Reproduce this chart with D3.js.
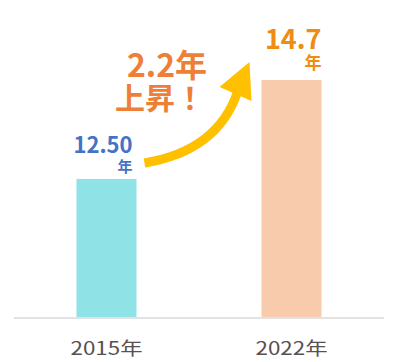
<!DOCTYPE html>
<html>
<head>
<meta charset="utf-8">
<script src="https://cdnjs.cloudflare.com/ajax/libs/d3/7.8.5/d3.min.js"></script>
<style>
  body { margin: 0; background: #fff; }
  svg { display: block; }
</style>
</head>
<body>
<svg id="chart"></svg>
<script>
// data
var years = ["2015年", "2022年"];
var values = [12.50, 14.7];
var valueLabels = ["12.50", "14.7"];
var riseLabel = ["2.2年", "上昇！"];

var width = 398, height = 362;
var baseY = 317;

var svg = d3.select("#chart")
    .attr("width", width)
    .attr("height", height);

// x uses point scale so bar centres land at ~107 and ~292
var x = d3.scalePoint()
    .domain(years)
    .range([14, 384])
    .padding(0.5);

// y does not start at zero in the original
var y = d3.scaleLinear()
    .domain([9.43, 14.7])
    .range([baseY, 80]);

var barW = 60;
var barColors = ["#8fe2e6", "#f8cbad"];
var labelColors = ["#4472c4", "#ee8c14"];

svg.selectAll("rect.bar")
  .data(values)
  .enter().append("rect")
    .attr("class", "bar")
    .attr("x", function(d, i) { return x(years[i]) - barW / 2; })
    .attr("y", function(d) { return y(d); })
    .attr("width", barW)
    .attr("height", function(d) { return baseY - y(d); })
    .attr("fill", function(d, i) { return barColors[i]; });

// baseline
svg.append("line")
    .attr("x1", 14).attr("x2", 384)
    .attr("y1", baseY + 1).attr("y2", baseY + 1)
    .attr("stroke", "#e2e2e2")
    .attr("stroke-width", 2);

// category labels (the original font is wide, so stretch to its width)
svg.selectAll("text.cat")
  .data(years)
  .enter().append("text")
    .attr("class", "cat")
    .attr("x", function(d) { return x(d) - 36; })
    .attr("y", 355)
    .attr("textLength", 72)
    .attr("lengthAdjust", "spacingAndGlyphs")
    .attr("fill", "#595050")
    .style("font-family", "'Noto Sans CJK JP', sans-serif")
    .style("font-size", "18px")
    .text(function(d) { return d; });

// value labels: number with 年 on a second line, right aligned
var numSize = [22, 27], unitSize = [15, 17];
var rightPad = [4, 0], numGap = [26, 31], unitGap = [7, 11];
values.forEach(function(v, i) {
  var right = x(years[i]) + barW / 2 - rightPad[i];
  var top = y(v);
  var t = svg.append("text")
      .attr("text-anchor", "end")
      .attr("fill", labelColors[i])
      .style("font-family", "'Noto Sans CJK JP', sans-serif")
      .style("font-weight", "bold");
  t.append("tspan")
      .attr("x", right)
      .attr("y", top - numGap[i])
      .style("font-size", numSize[i] + "px")
      .text(valueLabels[i]);
  t.append("tspan")
      .attr("x", right)
      .attr("y", top - unitGap[i])
      .style("font-size", unitSize[i] + "px")
      .text("年");
});

// rising arrow
var x0 = x(years[0]) + barW / 2 + 8, y0 = y(values[0]) - 16;
var x1 = x(years[1]) - barW / 2 - 24, y1 = y(values[1]) + 12;
svg.append("path")
    .attr("d", "M" + x0 + "," + y0 + " Q" + (x1 - 20) + "," + (y0 - 12) + " " + x1 + "," + y1)
    .attr("fill", "none")
    .attr("stroke", "#ffc000")
    .attr("stroke-width", 9);
svg.append("path")
    .attr("d", "M" + (x1 - 18) + "," + (y1 - 5) +
               " L" + (x1 + 12) + "," + (y1 - 30) +
               " L" + (x1 + 14) + "," + (y1 + 9) + " Z")
    .attr("fill", "#ffc000");

// rise annotation, two lines in one text
var rise = svg.append("text")
    .attr("text-anchor", "middle")
    .attr("fill", "#ee7f36")
    .style("font-family", "'Noto Sans CJK JP', sans-serif")
    .style("font-weight", "bold");
rise.selectAll("tspan")
  .data(riseLabel)
  .enter().append("tspan")
    .attr("x", function(d, i) { return i === 0 ? 167 : 160; })
    .attr("y", function(d, i) { return i === 0 ? 77 : 109; })
    .style("font-size", function(d, i) { return i === 0 ? "32px" : "30px"; })
    .text(function(d) { return d; });
</script>
</body>
</html>
